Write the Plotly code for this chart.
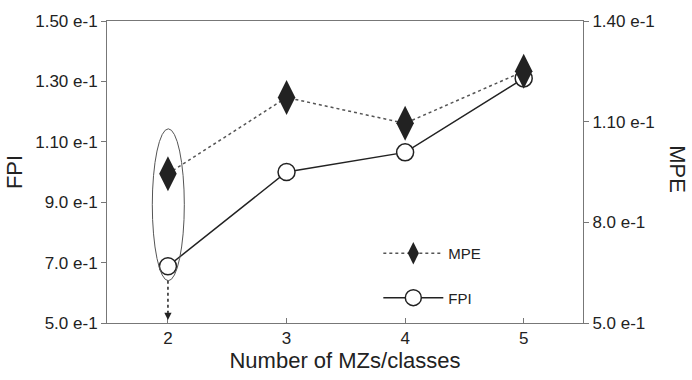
import plotly.graph_objects as go

classes = [2, 3, 4, 5]
fpi = [6.88, 10.0, 10.65, 13.1]
mpe = [9.45, 11.72, 10.95, 12.5]

fpi_ticks = [5, 7, 9, 11, 13, 15]
fpi_ticktext = ["5.0 e-1", "7.0 e-1", "9.0 e-1", "1.10 e-1", "1.30 e-1", "1.50 e-1"]
mpe_ticks = [5, 8, 11, 14]
mpe_ticktext = ["5.0 e-1", "8.0 e-1", "1.10 e-1", "1.40 e-1"]

FONT = "Liberation Sans, Arial, sans-serif"
AX = "#777777"
INK = "#222222"

fig = go.Figure()
fig.add_trace(go.Scatter(
    x=classes, y=fpi, name="FPI", mode="lines+markers", legendgroup="fpi", legendrank=2,
    line=dict(color=INK, width=1.5),
    marker=dict(symbol="circle", size=17, color="white", line=dict(color=INK, width=1.5)),
))
fig.add_trace(go.Scatter(
    x=classes, y=mpe, name="MPE", mode="lines+markers", yaxis="y2", legendgroup="mpe", legendrank=1,
    line=dict(color="#555555", width=1.5, dash="dot"),
    marker=dict(symbol="diamond-tall", size=25, color=INK, line=dict(width=0)),
))

# ellipse around the 2-class points
fig.add_shape(type="circle", xref="x", yref="y", x0=1.868, x1=2.138, y0=6.40, y1=11.43,
              line=dict(color="#555555", width=1))
fig.add_shape(type="line", xref="x", yref="y", x0=2, x1=2, y0=6.40, y1=5.35,
              line=dict(color=INK, width=1.5, dash="dot"))
fig.add_annotation(x=2, y=5.1, xref="x", yref="y", ax=0, ay=-10, showarrow=True,
                   arrowhead=2, arrowsize=1.2, arrowwidth=1.2, arrowcolor=INK, text="")

fig.add_annotation(text="MPE", xref="paper", yref="paper", x=1.197, y=0.51,
                   xanchor="center", yanchor="middle",
                   textangle=90, showarrow=False,
                   font=dict(family=FONT, size=22, color=INK))

fig.update_layout(
    width=692, height=380,
    margin=dict(l=107, r=109, t=17, b=55),
    paper_bgcolor="white", plot_bgcolor="white",
    font=dict(family=FONT, color=INK),
    showlegend=True,
    legend=dict(x=0.57, y=0.285, xanchor="left", yanchor="top",
                traceorder="grouped", bgcolor="rgba(0,0,0,0)",
                font=dict(family=FONT, size=15, color=INK),
                itemwidth=60, tracegroupgap=22),
    xaxis=dict(range=[1.486, 5.5], tickvals=classes, ticktext=[str(c) for c in classes],
               showline=True, linecolor=AX, linewidth=1, mirror=True,
               ticks="inside", ticklen=5, tickcolor=AX, showgrid=False, zeroline=False,
               tickfont=dict(family=FONT, size=17, color=INK),
               title=dict(text="Number of MZs/classes", font=dict(family=FONT, size=22, color=INK),
                          standoff=4)),
    yaxis=dict(range=[5, 15], tickvals=fpi_ticks, ticktext=fpi_ticktext,
               showline=True, linecolor=AX, linewidth=1,
               ticks="outside", ticklen=5, tickcolor=AX, showgrid=False, zeroline=False,
               tickfont=dict(family=FONT, size=17, color=INK),
               title=dict(text="FPI", font=dict(family=FONT, size=22, color=INK), standoff=6)),
    yaxis2=dict(range=[5, 14], tickvals=mpe_ticks, ticktext=mpe_ticktext,
                overlaying="y", side="right",
                showline=True, linecolor=AX, linewidth=1,
                ticks="outside", ticklen=5, tickcolor=AX, showgrid=False, zeroline=False,
                tickfont=dict(family=FONT, size=17, color=INK)),
)

fig.write_html("out.html")
